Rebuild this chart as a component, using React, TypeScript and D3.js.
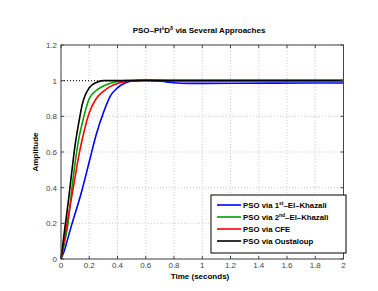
import React from 'react'
import * as d3 from 'd3'

const timeS = [0, 0.025, 0.05, 0.075, 0.1, 0.125, 0.15, 0.2, 0.25, 0.3, 0.35, 0.4, 0.45, 0.5, 0.6, 0.7, 0.8, 0.9, 1.0, 1.5, 2.0]
const el1 = [0, 0.05, 0.12, 0.19, 0.255, 0.32, 0.39, 0.545, 0.7, 0.82, 0.915, 0.96, 0.985, 0.998, 1.003, 0.998, 0.988, 0.985, 0.985, 0.986, 0.987]
const el2 = [0, 0.09, 0.2, 0.38, 0.54, 0.67, 0.76, 0.9, 0.945, 0.97, 0.985, 0.995, 1.0, 1.002, 1.002, 1.0, 1.0, 1.0, 1.0, 1.0, 1.0]
const cfe = [0, 0.115, 0.235, 0.345, 0.46, 0.575, 0.67, 0.82, 0.9, 0.94, 0.968, 0.984, 0.994, 0.999, 1.003, 1.003, 1.002, 1.002, 1.002, 1.002, 1.002]
const oust = [0, 0.16, 0.31, 0.48, 0.64, 0.76, 0.865, 0.96, 0.99, 1.0, 1.0, 1.0, 1.0, 1.0, 1.0, 1.0, 1.0, 1.0, 1.0, 1.0, 1.0]

const xTicks = [0, 0.2, 0.4, 0.6, 0.8, 1, 1.2, 1.4, 1.6, 1.8, 2]
const yTicks = [0, 0.2, 0.4, 0.6, 0.8, 1, 1.2]

const series = [
  { sup: 'st', values: el1, color: '#0000ff' },
  { sup: 'nd', values: el2, color: '#00a000' },
  { name: 'PSO via CFE', values: cfe, color: '#ff0000' },
  { name: 'PSO via Oustaloup', values: oust, color: '#000000' },
]

const W = 378
const H = 291
const m = { left: 61, right: 343.5, top: 45, bottom: 259 }
const font = 'Liberation Sans, Arial, Helvetica, sans-serif'

export default function App() {
  const x = d3.scaleLinear().domain([0, 2]).range([m.left, m.right])
  const y = d3.scaleLinear().domain([0, 1.2]).range([m.bottom, m.top])

  const line = d3.line<number>()
    .x((_, i) => x(timeS[i]))
    .y(d => y(d))
    .curve(d3.curveMonotoneX)

  const lx = 211
  const ly = 195
  const rowY = [205, 217, 229, 241]

  return (
    <svg width={W} height={H} style={{ position: 'absolute', left: 0, top: 0, background: '#fff' }}>
      <rect x={0} y={0} width={W} height={H} fill="#fff" />
      {/* grid */}
      {xTicks.map(t => (
        <line key={'gx' + t} x1={x(t)} x2={x(t)} y1={m.top} y2={m.bottom}
          stroke="#bbb" strokeWidth={0.8} strokeDasharray="1,2" />
      ))}
      {yTicks.map(t => (
        <line key={'gy' + t} x1={m.left} x2={m.right} y1={y(t)} y2={y(t)}
          stroke="#bbb" strokeWidth={0.8} strokeDasharray="1,2" />
      ))}
      {/* steady state line */}
      <line x1={m.left} x2={m.right} y1={y(1)} y2={y(1)} stroke="#000" strokeWidth={1} strokeDasharray="1,2" />

      {series.map((s, i) => (
        <path key={i} d={line(s.values) || ''} fill="none" stroke={s.color} strokeWidth={1.6} />
      ))}

      {/* frame and ticks */}
      <rect x={m.left} y={m.top} width={m.right - m.left} height={m.bottom - m.top}
        fill="none" stroke="#444" strokeWidth={1} />
      {xTicks.map(t => (
        <g key={'tx' + t}>
          <line x1={x(t)} x2={x(t)} y1={m.bottom} y2={m.bottom - 3} stroke="#444" />
          <line x1={x(t)} x2={x(t)} y1={m.top} y2={m.top + 3} stroke="#444" />
          <text x={x(t)} y={268} textAnchor="middle" fontFamily={font} fontSize={8} fill="#444">{t}</text>
        </g>
      ))}
      {yTicks.map(t => (
        <g key={'ty' + t}>
          <line x1={m.left} x2={m.left + 3} y1={y(t)} y2={y(t)} stroke="#444" />
          <line x1={m.right} x2={m.right - 3} y1={y(t)} y2={y(t)} stroke="#444" />
          <text x={57} y={y(t) + 3} textAnchor="end" fontFamily={font} fontSize={8} fill="#444">{t}</text>
        </g>
      ))}

      {/* labels */}
      <text x={199} y={33} textAnchor="middle" fontFamily={font} fontSize={8} fontWeight="bold">
        PSO–PI<tspan dy={-3} fontSize={5}>λ</tspan><tspan dy={3}>D</tspan><tspan dy={-3} fontSize={5}>δ</tspan><tspan dy={3}> via Several Approaches</tspan>
      </text>
      <text x={200} y={279} textAnchor="middle" fontFamily={font} fontSize={8} fontWeight="bold">Time (seconds)</text>
      <text transform={`translate(38,${(m.top + m.bottom) / 2}) rotate(-90)`} textAnchor="middle"
        fontFamily={font} fontSize={8} fontWeight="bold">Amplitude</text>

      {/* legend */}
      <rect x={lx} y={ly} width={135} height={58} fill="#fff" stroke="#000" strokeWidth={1} />
      {series.map((s, i) => (
        <g key={'lg' + i}>
          <line x1={217} x2={241} y1={rowY[i]} y2={rowY[i]} stroke={s.color} strokeWidth={1.6} />
          <text x={243} y={rowY[i] + 2.7} fontFamily={font} fontSize={7.8} fontWeight="bold">
            {s.sup ? (
              <>
                PSO via {i + 1}<tspan dy={-3} fontSize={5}>{s.sup}</tspan><tspan dy={3}>–El–Khazali</tspan>
              </>
            ) : s.name}
          </text>
        </g>
      ))}
    </svg>
  )
}
